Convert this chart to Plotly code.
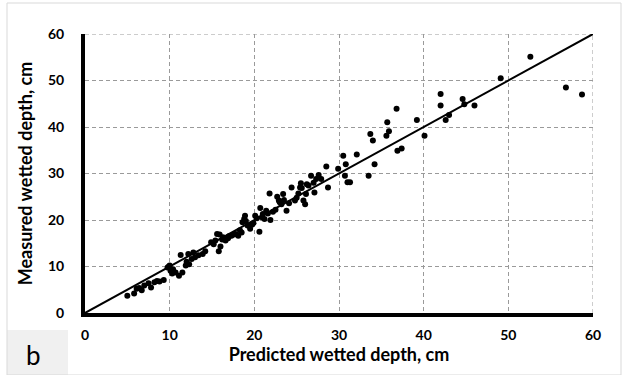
import plotly.graph_objects as go

predicted = [5.0, 5.8, 6.4, 6.7, 7.0, 7.5, 7.8, 8.2, 8.8, 9.3, 9.75, 10.0, 10.1, 10.3, 10.7, 11.1,
             11.3, 11.5, 11.9, 12.2, 12.3, 12.6, 12.8, 13.0, 13.9, 14.2, 14.9, 15.4, 15.6, 15.8,
             16.0, 16.3, 16.6, 16.9, 17.3, 17.8, 18.1, 18.5, 18.6, 18.8, 18.9, 19.2, 19.5, 19.9,
             20.1, 20.6, 20.7, 21.0, 21.2, 21.4, 21.8, 21.9, 22.5, 22.7, 22.9, 23.2, 23.4, 23.5,
             23.8, 24.4, 24.8, 25.2, 25.4, 25.5, 25.8, 26.0, 26.1, 26.2, 26.7, 27.1, 27.3, 27.6,
             27.9, 28.5, 28.7, 29.9, 30.5, 30.7, 30.8, 31.0, 31.3, 32.1, 33.5, 33.7, 34.0, 34.2,
             35.6, 35.7, 35.9, 36.8, 36.9, 37.4, 39.2, 40.1, 42.0, 42.0, 42.6, 43.0, 44.6, 44.8,
             46.0, 49.1, 52.6, 56.8, 58.7,
             9.9, 10.4, 12.0, 13.4, 15.2, 15.9, 16.2, 17.0, 17.6, 18.3, 19.0, 19.7, 20.3, 20.9,
             21.6, 22.2, 23.0, 24.1, 25.0, 25.6, 26.4, 27.0, 6.1, 8.5]
measured = [3.7, 4.2, 5.4, 4.9, 5.9, 6.4, 5.5, 6.6, 6.8, 7.1, 9.8, 10.2, 9.1, 8.5, 8.7, 8.0,
            12.5, 8.7, 10.2, 12.7, 10.5, 11.6, 13.0, 12.0, 12.7, 13.3, 15.2, 15.6, 17.0, 13.3,
            14.3, 16.3, 15.6, 16.1, 16.6, 17.0, 16.6, 17.3, 19.5, 20.2, 20.9, 18.8, 18.1, 19.3,
            20.9, 17.5, 22.6, 21.3, 20.2, 22.0, 25.7, 20.0, 22.2, 25.0, 24.2, 23.4, 25.6, 24.3,
            22.0, 27.0, 24.2, 25.7, 27.0, 27.9, 24.2, 23.4, 25.6, 27.7, 29.5, 25.9, 28.8, 29.7,
            28.8, 31.5, 27.0, 31.0, 33.8, 29.5, 32.0, 28.1, 28.1, 34.1, 29.5, 38.5, 37.1, 32.0,
            38.1, 41.0, 39.1, 43.9, 34.9, 35.4, 41.5, 38.1, 47.1, 44.6, 41.5, 42.6, 46.0, 44.9,
            44.6, 50.5, 55.1, 48.5, 47.0,
            10.0, 9.4, 11.0, 12.4, 14.8, 16.9, 15.8, 16.5, 16.9, 17.8, 19.8, 19.0, 20.4, 20.6,
            21.4, 21.8, 23.8, 23.6, 24.8, 26.9, 27.4, 28.0, 5.2, 6.9]

ticks = [0, 10, 20, 30, 40, 50, 60]
line_xy = [0, 60]

font_fam = "Lato, 'Open Sans', sans-serif"
grid_col = "#9a9a9a"
grid_dash = "4px,3px"

fig = go.Figure()
fig.add_trace(go.Scatter(x=line_xy, y=line_xy, mode="lines",
                         line=dict(color="black", width=2), hoverinfo="skip"))
fig.add_trace(go.Scatter(x=predicted, y=measured, mode="markers",
                         marker=dict(color="black", size=6)))

axis_common = dict(range=[0, 60], tickvals=ticks, showgrid=True, gridcolor=grid_col,
                   griddash=grid_dash, gridwidth=1, zeroline=False, showline=True,
                   linecolor="black", linewidth=4, ticks="", automargin=False,
                   tickfont=dict(family=font_fam, size=14, color="black", weight="bold"),
                   fixedrange=True)

fig.update_layout(
    width=624, height=375,
    margin=dict(l=85, r=31, t=34, b=62),
    paper_bgcolor="white", plot_bgcolor="white",
    showlegend=False,
    xaxis=dict(**axis_common, ticklabelstandoff=6,
               title=dict(text="Predicted wetted depth, cm", standoff=6,
                          font=dict(family=font_fam, size=18, color="black", weight="bold"))),
    yaxis=dict(**axis_common, ticklabelstandoff=14,
               title=dict(text="Measured wetted depth, cm", standoff=12,
                          font=dict(family=font_fam, size=18, color="black", weight="bold"))),
    shapes=[
        dict(type="line", xref="x", yref="y", x0=0, x1=60, y0=60, y1=60,
             line=dict(color=grid_col, width=1, dash=grid_dash), layer="below"),
        dict(type="line", xref="x", yref="y", x0=60, x1=60, y0=0, y1=60,
             line=dict(color=grid_col, width=1, dash=grid_dash), layer="below"),
        dict(type="rect", xref="paper", yref="paper", x0=-78/508, x1=1+28/508,
             y0=-62/279, y1=1+31/279, line=dict(color="#d9d9d9", width=1)),
        dict(type="rect", xref="paper", yref="paper", x0=-78/508, x1=-17/508,
             y0=-62/279, y1=-17/279, fillcolor="#f0f0f0", line=dict(width=0),
             layer="below"),
    ],
    annotations=[
        dict(text="b", xref="paper", yref="paper", x=-52/508, y=-42/279,
             showarrow=False, xanchor="center", yanchor="middle",
             font=dict(family=font_fam, size=26, color="black")),
    ],
)

fig.write_html("out.html", config={"displayModeBar": False},
               post_script="document.body.style.margin='0';document.body.style.overflow='hidden';")
